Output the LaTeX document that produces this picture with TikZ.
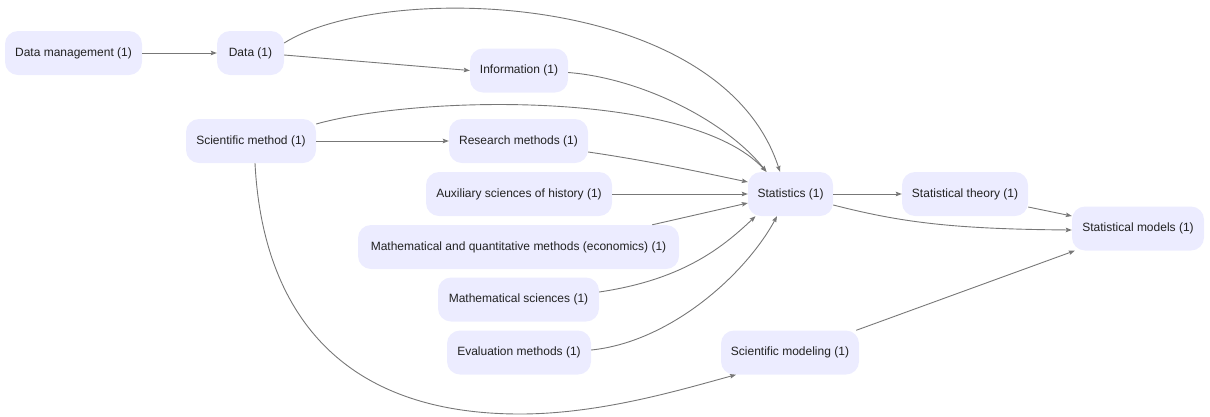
\documentclass[tikz,border=0pt]{standalone}
\usepackage{fontspec}
\setmainfont{Liberation Sans}
\usetikzlibrary{arrows.meta}
\definecolor{nodefill}{HTML}{ECECFF}
\definecolor{edgecol}{HTML}{777777}
\definecolor{txtcol}{HTML}{222222}
\tikzset{
  box/.style={fill=nodefill, draw=none, rounded corners=13pt, minimum height=44pt,
    inner sep=0pt, text=txtcol, font=\fontsize{12}{14}\selectfont},
  edge/.style={draw=edgecol, line width=0.9pt, -{Stealth[length=6pt,width=4.5pt,inset=1pt]}}
}
\begin{document}
\begin{tikzpicture}[x=1pt,y=-1pt]
\useasboundingbox (0,0) rectangle (1210,416);
% nodes
\node[box, minimum width=137pt] (dm)   at (73.5,53)   {Data management (1)};
\node[box, minimum width=67pt]  (data) at (250.5,53)  {Data (1)};
\node[box, minimum width=98pt]  (info) at (519,70.5)  {Information (1)};
\node[box, minimum width=130pt] (sm)   at (251,141)   {Scientific method (1)};
\node[box, minimum width=139pt] (rm)   at (518.5,141) {Research methods (1)};
\node[box, minimum width=186pt] (aux)  at (519,194)   {Auxiliary sciences of history (1)};
\node[box, minimum width=85pt]  (stat) at (790.5,194) {Statistics (1)};
\node[box, minimum width=126pt] (st)   at (965,194)   {Statistical theory (1)};
\node[box, minimum width=132pt] (smod) at (1138,228.5) {Statistical models (1)};
\node[box, minimum width=321pt] (mq)   at (518.5,247) {Mathematical and quantitative methods (economics) (1)};
\node[box, minimum width=161pt] (ms)   at (518.5,299.5) {Mathematical sciences (1)};
\node[box, minimum width=144pt] (ev)   at (519,352.5) {Evaluation methods (1)};
\node[box, minimum width=138pt] (smd)  at (790,352.5) {Scientific modeling (1)};
\coordinate (low) at (520,414);
% connectors
\draw[edge] (dm.east) -- (data.west);
\draw[edge] ([yshift=-2pt]data.east) -- (info.west);
\draw[edge] ([yshift=10pt]data.east) .. controls (380,-18) and (720,-12) .. ([xshift=-10.5pt]stat.north);
\draw[edge] ([yshift=-2pt]info.east) .. controls (640,78) and (725,120) .. ([xshift=-24pt]stat.north);
\draw[edge] ([yshift=17pt]sm.east) .. controls (420,95) and (690,90) .. ([xshift=-24pt]stat.north);
\draw[edge] (sm.east) -- (rm.west);
\draw[edge] ([yshift=-11pt]rm.east) .. controls (650,161) and (700,172) .. ([yshift=12pt]stat.west);
\draw[edge] (aux.east) -- (stat.west);
\draw[edge] ([xshift=-27pt]mq.north east) -- ([yshift=-9pt]stat.west);
\draw[edge] ([yshift=7.5pt]ms.east) .. controls (680,280) and (720,250) .. ([xshift=-35pt]stat.south);
\draw[edge] ([yshift=2.5pt]ev.east) .. controls (670,342) and (745,275) .. ([xshift=-13.5pt]stat.south);
\draw[edge] (stat.east) -- (st.west);
\draw[edge] ([yshift=-11pt]stat.east) .. controls (900,222) and (950,229) .. ([yshift=-1.5pt]smod.west);
\draw[edge] ([yshift=-13pt]st.east) -- ([yshift=12.5pt]smod.west);
\draw[edge] ([xshift=4pt]sm.south) .. controls (262,300) and (330,414) .. (low)
  .. controls (600,414) and (680,390) .. ([xshift=-54pt]smd.south);
\draw[edge] ([xshift=-3pt]smd.north east) -- ([xshift=3pt]smod.south west);
\end{tikzpicture}
\end{document}
